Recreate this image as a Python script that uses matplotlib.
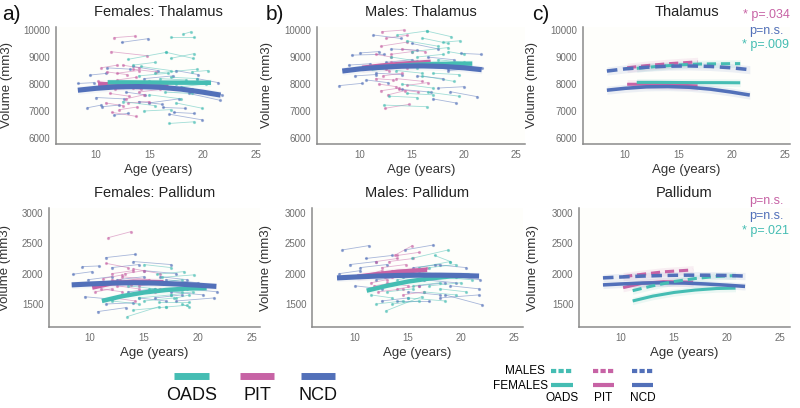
import matplotlib
matplotlib.use("Agg")
import matplotlib.pyplot as plt
from matplotlib.lines import Line2D

# colours per group
TEAL = "#45bdb3"
PINK = "#c763a5"
BLUE = "#5270b9"
GROUPS = ["OADS", "PIT", "NCD"]
COLORS = {"OADS": TEAL, "PIT": PINK, "NCD": BLUE}

# individual trajectories: (age1, vol1, age2, vol2)
ft_ncd = [(9.4, 8330, 10.9, 8390), (9.2, 7120, 10.5, 7220), (10.6, 7160, 12.2, 7220),
          (11.7, 6850, 13.0, 6910), (8.3, 8020, 9.8, 8050), (12.4, 9543, 14.9, 9679),
          (16.3, 7130, 18.4, 7100), (16.9, 6880, 20.0, 6670), (17.3, 6950, 19.2, 6910),
          (18.75, 7650, 21.6, 7400), (10.0, 7500, 12.6, 7450), (13.5, 8650, 15.8, 8500),
          (14.5, 8200, 17.2, 8300), (15.0, 7300, 17.8, 7450), (12.8, 7700, 14.6, 7600),
          (17.5, 8500, 19.6, 8350), (19.0, 7800, 21.8, 7600), (11.0, 8600, 13.2, 8550),
          (14.0, 7350, 16.2, 7250), (16.0, 7900, 18.5, 7800), (12.0, 8000, 14.0, 8050),
          (19.5, 8200, 21.5, 8050)]
ft_pit = [(11.7, 9716, 13.7, 9777), (11.4, 9197, 14.8, 9049), (10.5, 8600, 12.0, 8700),
          (11.0, 8450, 12.9, 8350), (12.0, 8150, 13.8, 8250), (12.5, 7900, 14.2, 7800),
          (11.3, 7650, 13.1, 7550), (12.8, 7450, 14.5, 7600), (10.9, 7300, 12.5, 7200),
          (11.5, 6950, 13.8, 6800), (13.5, 8550, 15.6, 8450), (14.0, 7700, 16.0, 7800),
          (12.2, 7050, 13.9, 7150), (13.0, 8000, 15.3, 7950), (10.2, 8100, 11.9, 8000),
          (12.0, 8400, 14.0, 8500), (11.8, 7800, 13.5, 7850), (13.0, 7300, 15.0, 7350),
          (10.8, 7900, 12.5, 7950), (12.5, 8700, 14.0, 8600)]
ft_oads = [(17.0, 9728, 19.2, 9728), (18.2, 9850, 18.9, 9930), (13.0, 8913, 16.6, 9172),
           (16.6, 9172, 19.1, 8950), (17.0, 8950, 19.2, 9123), (14.2, 8650, 17.0, 8500),
           (15.5, 8400, 19.5, 8550), (16.0, 8200, 18.5, 8150), (13.8, 7900, 16.5, 8050),
           (15.0, 7600, 18.0, 7450), (17.5, 7300, 20.0, 7100), (16.9, 6540, 19.2, 6600),
           (12.5, 7350, 15.5, 7200), (18.0, 7900, 20.3, 8000), (14.0, 8300, 16.8, 8400),
           (19.0, 8450, 20.5, 8500), (15.0, 8100, 17.5, 8000), (16.5, 7700, 19.0, 7650),
           (14.5, 7000, 17.0, 7050), (17.0, 8250, 19.5, 8200), (13.5, 8700, 15.5, 8800)]

mt_ncd = [(8.0, 7940, 10.2, 8025), (9.2, 9070, 12.3, 9100), (11.3, 9815, 13.9, 9690),
          (19.7, 9135, 21.6, 9100), (18.7, 7715, 21.3, 7530), (8.9, 8700, 11.0, 8750),
          (10.6, 8150, 12.7, 8050), (12.5, 8800, 15.0, 8900), (14.0, 7800, 16.8, 7700),
          (15.5, 8300, 18.0, 8200), (16.5, 9000, 19.0, 8900), (17.0, 7450, 19.2, 7300),
          (18.5, 8500, 21.7, 8600), (10.0, 9150, 11.8, 9200), (15.0, 9500, 17.5, 9300),
          (11.5, 8400, 14.0, 8350), (13.0, 9300, 15.5, 9250), (16.0, 8650, 18.5, 8550),
          (17.5, 7850, 20.0, 7900), (9.5, 8300, 11.5, 8350)]
mt_pit = [(12.1, 9938, 14.2, 9999), (12.4, 7100, 14.7, 7245), (12.0, 9400, 14.5, 9550),
          (11.5, 9100, 13.0, 9000), (13.0, 8800, 15.0, 8700), (12.2, 8300, 14.0, 8400),
          (11.8, 8000, 13.5, 7900), (13.5, 8200, 16.0, 8100), (12.7, 7600, 14.3, 7750),
          (14.0, 9300, 16.3, 9200), (11.0, 8600, 12.8, 8500), (14.5, 7950, 16.5, 8050),
          (12.5, 9700, 14.5, 9800), (13.0, 9100, 15.0, 9200), (12.5, 8550, 14.5, 8600),
          (11.5, 8200, 13.2, 8150), (13.8, 7800, 15.6, 7700), (12.0, 7750, 13.8, 7850)]
mt_oads = [(13.6, 9815, 16.4, 9963), (16.4, 9963, 18.8, 9750), (12.3, 7220, 16.4, 7160),
           (14.5, 9600, 17.5, 9400), (15.0, 9200, 18.5, 9350), (13.0, 9000, 15.5, 8850),
           (16.0, 8300, 19.0, 8100), (14.0, 8000, 17.0, 7850), (17.5, 8900, 20.0, 8800),
           (12.8, 7550, 15.5, 7500), (16.5, 7700, 19.5, 7550), (18.0, 9550, 19.6, 9600),
           (15.5, 8600, 18.0, 8750), (13.5, 8500, 16.0, 8400), (16.0, 9700, 18.5, 9500),
           (17.0, 8400, 19.5, 8350), (14.5, 7650, 17.0, 7600), (15.5, 9000, 18.0, 9100),
           (18.5, 9200, 20.0, 9100)]

fp_ncd = [(11.45, 2265, 14.2, 2320), (9.3, 2116, 10.8, 2127), (8.4, 1990, 10.2, 2034),
          (10.7, 1375, 13.3, 1440), (9.5, 1620, 12.0, 1580), (12.5, 1900, 15.0, 1950),
          (14.0, 2200, 17.5, 2150), (16.0, 1600, 18.5, 1650), (18.0, 1550, 21.5, 1600),
          (13.5, 1700, 16.0, 1750), (17.0, 1900, 20.0, 1850), (10.5, 1800, 13.0, 1850),
          (15.0, 2050, 18.0, 2000), (19.0, 1750, 21.8, 1700), (11.5, 1500, 14.0, 1520),
          (12.0, 2100, 14.5, 2150), (16.5, 1950, 19.0, 1900), (14.5, 1600, 17.0, 1550),
          (9.8, 1900, 12.0, 1950), (17.5, 1700, 20.5, 1650)]
fp_pit = [(11.7, 2594, 13.8, 2693), (11.5, 2170, 13.5, 2100), (12.0, 2000, 14.0, 2050),
          (11.0, 1850, 12.8, 1900), (12.5, 1800, 14.5, 1750), (13.0, 1950, 15.5, 1900),
          (10.5, 1700, 12.0, 1750), (13.5, 1650, 16.0, 1700), (12.2, 1600, 14.2, 1550),
          (14.0, 2080, 16.5, 2000), (11.2, 1920, 13.0, 1980), (14.5, 1800, 16.8, 1850),
          (12.8, 1850, 14.8, 1880), (11.0, 1750, 13.0, 1700), (13.2, 2000, 15.0, 2050),
          (12.0, 1900, 13.8, 1820), (14.8, 1700, 16.5, 1750)]
fp_oads = [(13.45, 1293, 16.4, 1457), (16.4, 1540, 19.2, 1540), (16.2, 1990, 18.7, 2034),
           (16.7, 1940, 19.6, 1980), (14.5, 1600, 17.5, 1650), (15.5, 1750, 18.5, 1700),
           (17.0, 1450, 19.0, 1480), (12.0, 1550, 14.5, 1500), (15.0, 2150, 17.5, 2100),
           (17.5, 1850, 20.0, 1800), (13.0, 1650, 15.5, 1700), (18.0, 1600, 19.2, 1650),
           (14.0, 1400, 17.0, 1450), (16.0, 1850, 18.5, 1900), (18.5, 1500, 19.2, 1450),
           (15.0, 1550, 17.8, 1600), (17.5, 1650, 19.5, 1700), (13.5, 1800, 16.0, 1750)]

mp_ncd = [(8.8, 2391, 11.3, 2462), (14.7, 2391, 17.4, 2473), (18.5, 1650, 22.0, 1485),
          (9.5, 2150, 12.0, 2200), (8.5, 2000, 10.5, 2050), (10.0, 1800, 12.5, 1750),
          (12.5, 1550, 15.0, 1600), (15.0, 1700, 18.0, 1650), (16.5, 1900, 19.5, 1850),
          (17.5, 2150, 20.5, 2100), (13.5, 2000, 16.0, 2050), (19.0, 1800, 21.7, 1750),
          (11.0, 2250, 13.5, 2300), (14.0, 1550, 17.0, 1550), (19.5, 1950, 21.8, 1900),
          (12.0, 1900, 14.5, 1950), (16.0, 1800, 18.5, 1850), (18.0, 1600, 21.7, 1650),
          (10.5, 2100, 13.0, 2150), (15.5, 2100, 18.0, 2150)]
mp_pit = [(13.8, 2308, 15.4, 2462), (12.0, 2200, 14.0, 2250), (12.5, 2100, 14.8, 2150),
          (11.5, 2000, 13.5, 1950), (13.0, 1850, 15.0, 1800), (14.0, 2300, 16.0, 2350),
          (12.2, 1700, 14.5, 1750), (10.5, 1950, 12.5, 2050), (14.5, 1650, 16.5, 1700),
          (13.5, 2050, 16.8, 2100), (11.8, 1800, 13.8, 1850), (12.8, 1950, 14.5, 2000),
          (13.2, 2200, 15.5, 2250), (11.5, 1850, 13.0, 1900), (14.0, 1750, 16.0, 1800)]
mp_oads = [(15.4, 2254, 18.8, 2391), (12.9, 1386, 16.3, 1622), (16.0, 2100, 19.0, 2200),
           (14.0, 1900, 17.0, 2000), (17.0, 1800, 20.0, 1850), (13.0, 1700, 15.5, 1750),
           (15.0, 1600, 18.5, 1550), (18.0, 1950, 21.0, 1900), (12.0, 1500, 14.5, 1550),
           (16.5, 1700, 19.5, 1650), (14.5, 2050, 17.5, 2000), (17.5, 2300, 19.0, 2200),
           (11.5, 1650, 13.5, 1600), (16.0, 1900, 18.5, 1950), (18.0, 1750, 20.5, 1700),
           (13.5, 1500, 16.0, 1550), (15.5, 1800, 18.0, 1850), (17.0, 2100, 19.5, 2150)]

# fitted growth curves (ages, volumes)
fit_age_ncd = [8.3, 10, 12, 14, 16, 18, 20, 21.7]
fit_age_pit = [10.2, 12, 14, 16.8]
fit_age_oads = [11.1, 13, 15, 17, 19, 20.8]

ft_fit = {"NCD": [7770, 7840, 7895, 7905, 7880, 7810, 7700, 7590],
          "PIT": [7990, 7990, 7970, 7930],
          "OADS": [8060, 8060, 8055, 8050, 8050, 8045]}
mt_fit = {"NCD": [8480, 8560, 8620, 8660, 8670, 8650, 8600, 8530],
          "PIT": [8600, 8680, 8750, 8820],
          "OADS": [8580, 8650, 8705, 8740, 8750, 8755]}
fp_fit = {"NCD": [1815, 1830, 1845, 1850, 1845, 1830, 1810, 1790],
          "PIT": [1770, 1840, 1868, 1860],
          "OADS": [1550, 1630, 1690, 1730, 1755, 1762]}
mp_fit = {"NCD": [1930, 1945, 1960, 1970, 1975, 1975, 1970, 1960],
          "PIT": [1950, 1990, 2030, 2062],
          "OADS": [1720, 1800, 1870, 1920, 1955, 1968]}
fit_ages = {"NCD": fit_age_ncd, "PIT": fit_age_pit, "OADS": fit_age_oads}

# confidence band half widths
thal_ci = {"NCD": 150, "PIT": 170, "OADS": 140}
pall_ci = {"NCD": 60, "PIT": 70, "OADS": 60}

thal_pvals = [("* p=.034", PINK), ("p=n.s.", BLUE), ("* p=.009", TEAL)]
pall_pvals = [("p=n.s.", PINK), ("p=n.s.", BLUE), ("* p=.021", TEAL)]

thal_ticks = [6000, 7000, 8000, 9000, 10000]
pall_ticks = [1500, 2000, 2500, 3000]
age_ticks = [10, 15, 20, 25]

W, H = 800, 408
plt.rcParams["font.family"] = ["Liberation Sans", "DejaVu Sans"]

fig = plt.figure(figsize=(W / 100, H / 100), dpi=100)
fig.patch.set_facecolor("white")


def fx(x):
    return x / W


def fy(y):
    return 1 - y / H


def make_ax(l, r, t, b, xlim, ylim, yticks, title):
    ax = fig.add_axes([fx(l), fy(b), (r - l) / W, (b - t) / H])
    ax.set_facecolor("#fefefb")
    ax.set_xlim(*xlim)
    ax.set_ylim(*ylim)
    ax.set_xticks(age_ticks)
    ax.set_yticks(yticks)
    for s in ["top", "right"]:
        ax.spines[s].set_visible(False)
    for s in ["left", "bottom"]:
        ax.spines[s].set_color("#8a8a8a")
        ax.spines[s].set_linewidth(1.1)
    ax.tick_params(length=0, labelsize=7, labelcolor="#6e6e6e", pad=4)
    ax.set_xlabel("Age (years)", fontsize=9.5, color="#333333", labelpad=3)
    ax.set_ylabel("Volume (mm3)", fontsize=9.5, color="#333333")
    fig.text(fx((l + r) / 2), fy(t - 15), title, fontsize=10.5, color="#222222",
             ha="center", va="center")
    return ax


def spaghetti(ax, segs, color):
    for a1, v1, a2, v2 in segs:
        ax.plot([a1, a2], [v1, v2], color=color, lw=0.6, alpha=0.5,
                marker="o", markersize=1.3, zorder=2)


def fits(ax, fit, ci, lw, dashed=False, band_alpha=0.06):
    for g in ["PIT", "OADS", "NCD"]:
        ages = fit_ages[g]
        vals = fit[g]
        ax.fill_between(ages, [v - ci[g] for v in vals], [v + ci[g] for v in vals],
                        color=COLORS[g], alpha=band_alpha, lw=0, zorder=1)
        ls = (0, (3, 1.6)) if dashed else "-"
        w = lw * 1.15 if g == "NCD" else lw
        ax.plot(ages, vals, color=COLORS[g], lw=w, ls=ls, zorder=4,
                solid_capstyle="butt", dash_capstyle="butt")


# --- top row: thalamus
thal_ylim = (5778, 10111)
pall_ylim = (1121, 3082)

ax = make_ax(56, 260, 27, 144, (6.25, 25.4), thal_ylim, thal_ticks, "Females: Thalamus")
ax.yaxis.set_label_coords(fx(13), fy(85), transform=fig.transFigure)
spaghetti(ax, ft_ncd, BLUE)
spaghetti(ax, ft_pit, PINK)
spaghetti(ax, ft_oads, TEAL)
fits(ax, ft_fit, thal_ci, 3.2)

ax = make_ax(317, 525, 27, 144, (5.87, 25.87), thal_ylim, thal_ticks, "Males: Thalamus")
ax.yaxis.set_label_coords(fx(273), fy(85), transform=fig.transFigure)
spaghetti(ax, mt_ncd, BLUE)
spaghetti(ax, mt_pit, PINK)
spaghetti(ax, mt_oads, TEAL)
fits(ax, mt_fit, thal_ci, 3.2)

ax = make_ax(583, 790, 27, 144, (6.06, 25.47), thal_ylim, thal_ticks, "Thalamus")
ax.yaxis.set_label_coords(fx(538), fy(85), transform=fig.transFigure)
fits(ax, ft_fit, thal_ci, 2.2, band_alpha=0.1)
fits(ax, mt_fit, thal_ci, 2.2, dashed=True, band_alpha=0.1)
for (txt, col), yy in zip(thal_pvals, [15, 31, 45]):
    fig.text(fx(766), fy(yy), txt, color=col, fontsize=9, ha="center", va="center")

# --- bottom row: pallidum
ax = make_ax(49, 260, 208, 327, (6.2, 25.74), pall_ylim, pall_ticks, "Females: Pallidum")
ax.yaxis.set_label_coords(fx(11), fy(268), transform=fig.transFigure)
spaghetti(ax, fp_ncd, BLUE)
spaghetti(ax, fp_pit, PINK)
spaghetti(ax, fp_oads, TEAL)
fits(ax, fp_fit, pall_ci, 3.2)

ax = make_ax(312, 523, 208, 327, (5.94, 25.85), pall_ylim, pall_ticks, "Males: Pallidum")
ax.yaxis.set_label_coords(fx(272), fy(268), transform=fig.transFigure)
spaghetti(ax, mp_ncd, BLUE)
spaghetti(ax, mp_pit, PINK)
spaghetti(ax, mp_oads, TEAL)
fits(ax, mp_fit, pall_ci, 3.2)

ax = make_ax(579, 790, 208, 327, (6.04, 25.94), pall_ylim, pall_ticks, "Pallidum")
ax.yaxis.set_label_coords(fx(539), fy(268), transform=fig.transFigure)
fits(ax, fp_fit, pall_ci, 2.2, band_alpha=0.1)
fits(ax, mp_fit, pall_ci, 2.2, dashed=True, band_alpha=0.1)
for (txt, col), yy in zip(pall_pvals, [201, 216, 231]):
    fig.text(fx(766), fy(yy), txt, color=col, fontsize=9, ha="center", va="center")

# panel letters
for lbl, x in [("a)", 2), ("b)", 266), ("c)", 532)]:
    fig.text(fx(x), fy(14), lbl, fontsize=15, color="#111111", ha="left", va="center")

# --- group legend (bottom left)
for g, (x0, x1) in zip(GROUPS, [(174, 209), (240, 274), (301, 335)]):
    fig.add_artist(Line2D([fx(x0), fx(x1)], [fy(375.5), fy(375.5)], color=COLORS[g],
                          lw=5, solid_capstyle="butt", transform=fig.transFigure))
    fig.text(fx((x0 + x1) / 2), fy(396), g, fontsize=13,
             color="#111111", ha="center", va="center")

# --- sex legend (bottom right)
fig.text(fx(545), fy(371), "MALES", fontsize=8.5, ha="right", va="center")
fig.text(fx(548), fy(386), "FEMALES", fontsize=8.5, ha="right", va="center")
for g, (x0, x1) in zip(GROUPS, [(551, 573), (593, 614), (632, 653)]):
    fig.add_artist(Line2D([fx(x0), fx(x1)], [fy(371), fy(371)], color=COLORS[g], lw=3,
                          ls=(0, (1.25, 0.55)), dash_capstyle="butt",
                          transform=fig.transFigure))
    fig.add_artist(Line2D([fx(x0), fx(x1)], [fy(385), fy(385)], color=COLORS[g], lw=3,
                          solid_capstyle="butt", transform=fig.transFigure))
    fig.text(fx((x0 + x1) / 2), fy(398), g, fontsize=8.5,
             ha="center", va="center")

fig.savefig("out.png", dpi=100, facecolor="white")
plt.close(fig)
